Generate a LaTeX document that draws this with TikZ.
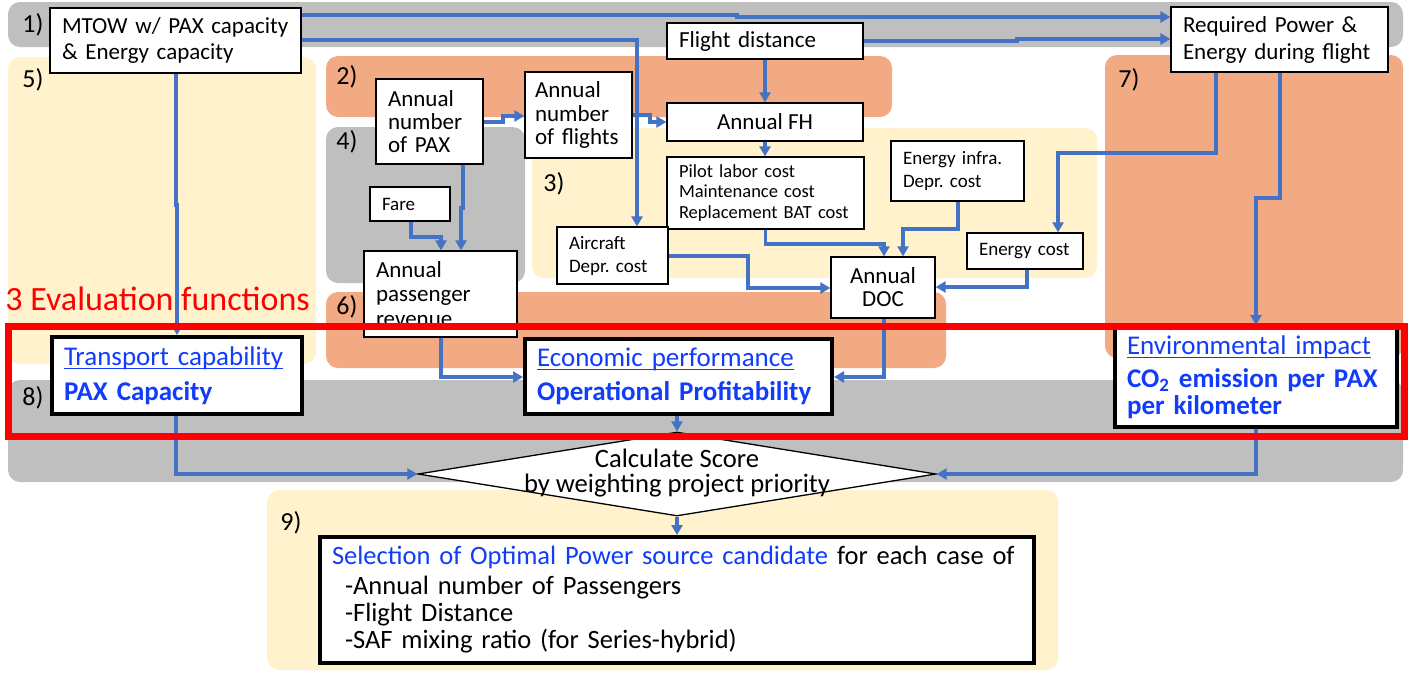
\documentclass[tikz,border=0pt]{standalone}
\usepackage{fontspec}
\setmainfont{Carlito}
\usetikzlibrary{arrows.meta,shapes.geometric}
\definecolor{bandgray}{HTML}{BFBFBF}
\definecolor{bgorange}{HTML}{F2AA84}
\definecolor{bgyellow}{HTML}{FFF2CC}
\definecolor{lineblue}{HTML}{4472C4}
\definecolor{txtblue}{RGB}{16,60,250}
\definecolor{evalred}{HTML}{FF0000}
\newcommand\fsz[2]{\fontsize{#1}{#2}\selectfont}
\newcommand\myul[1]{\setbox0\hbox{#1}\rlap{\rule[-1.8pt]{\wd0}{0.6pt}}\box0}
\frenchspacing
\begin{document}
\begin{tikzpicture}[x=0.5pt,y=-0.5pt,
  box/.style={draw=black, fill=white, line width=0.65pt, inner xsep=6pt, inner ysep=0pt, align=left},
  evalbox/.style={box, line width=2pt, text=txtblue},
  conn/.style={draw=lineblue, line width=1.6pt, -{Triangle[length=5pt,width=5.5pt]}},
  lbl/.style={anchor=west, inner sep=0pt, font=\fsz{13}{15}},
  bggray/.style={fill=bandgray, rounded corners=6pt},
  bgor/.style={fill=bgorange, rounded corners=6pt},
  bgye/.style={fill=bgyellow, rounded corners=6pt}]
\useasboundingbox (0,0) rectangle (1422,675);
% background regions
\fill[bggray] (8,2) rectangle (1403,47);
\fill[bgye] (8,57) rectangle (316,364);
\fill[bgor] (326,56) rectangle (892,117);
\fill[bggray] (326,127) rectangle (525,283);
\fill[bgye] (532,128) rectangle (1097,278);
\fill[bgor] (326,292) rectangle (946,368);
\fill[bgor] (1105,55) rectangle (1403,358);
\fill[bggray] (8,380) rectangle (1403,482);
\fill[bgye] (267,490) rectangle (1058,670);
% region labels
\node[lbl] (L1) at (22,25) {1)};
\node[lbl] (L5) at (22,80) {5)};
\node[lbl] (L2) at (336,77) {2)};
\node[lbl] (L4) at (336,142) {4)};
\node[lbl] (L3) at (543,184) {3)};
\node[lbl] (L6) at (336,307) {6)};
\node[lbl] (L7) at (1118,80) {7)};
\node[lbl] (L8) at (22,398) {8)};
\node[lbl] (L9) at (280,523) {9)};
% boxes
\node[box, text width=113.5pt, minimum height=32.5pt, font=\fsz{11.5}{13}] (MTOW) at (175.5,40.5) {MTOW w/ PAX capacity\\\& Energy capacity};
\node[box, text width=86pt, minimum height=18pt, font=\fsz{11.5}{13}] (Flight) at (765,41) {Flight distance};
\node[box, text width=96.5pt, minimum height=32.5pt, font=\fsz{11.5}{13.5}] (Req) at (1279.5,39.5) {Required Power \&\\Energy during flight};
\node[box, text width=41.5pt, minimum height=42.5pt, font=\fsz{11.5}{11.5}] (PAX) at (429.5,121.5) {Annual\\number\\of PAX};
\node[box, inner xsep=5pt, text width=43.5pt, minimum height=43pt, font=\fsz{11.5}{11.75}] (Flights) at (578.5,115) {Annual\\number\\\mbox{of flights}};
\node[box, align=center, minimum width=98pt, minimum height=19pt, font=\fsz{11.5}{13}] (FH) at (765,122) {Annual FH};
\node[box, text width=86.5pt, minimum height=36pt, font=\fsz{9.25}{10.25}] (Pilot) at (765.5,193) {Pilot labor cost\\Maintenance cost\\Replacement BAT cost};
\node[box, text width=54.5pt, minimum height=30pt, font=\fsz{9.5}{11.5}] (Infra) at (957.5,171) {Energy infra.\\Depr. cost};
\node[box, text width=43.5pt, minimum height=28.5pt, font=\fsz{9.5}{11.5}] (Acd) at (612.5,255.5) {Aircraft\\Depr. cost};
\node[box, text width=46pt, minimum height=18pt, font=\fsz{9.5}{11.5}] (ECost) at (1025,251) {Energy cost};
\node[box, align=center, minimum width=52pt, minimum height=30.5pt, font=\fsz{11.5}{11.5}] (DOC) at (883,287.5) {Annual\\DOC};
\node[box, text width=28pt, minimum height=17pt, font=\fsz{9.5}{11.5}] (Fare) at (410,204) {Fare};
\node[box, text width=64.5pt, minimum height=43pt, font=\fsz{11.5}{12.25}] (Rev) at (440.5,294) {Annual\\passenger\\revenue};
\node[evalbox, text width=113pt, minimum height=38.5pt, font=\fsz{13.5}{17.5}] (Trans) at (177,375.5) {\myul{Transport capability}\\\textbf{PAX Capacity}};
\node[evalbox, text width=141.5pt, minimum height=37.5pt, font=\fsz{13.5}{17}] (Econ) at (678.5,376.5) {\myul{Economic performance}\\\textbf{Operational Profitability}};
\node[evalbox, text width=129pt, minimum height=50pt, font=\fsz{13.5}{13.5}] (Env) at (1256,377) {\myul{Environmental impact}\\[3pt]\textbf{CO\textsubscript{2} emission per PAX}\\\textbf{per kilometer}};
\node[diamond, draw=black, fill=white, line width=0.65pt, inner sep=0pt, minimum width=259pt, minimum height=42pt] (Dia) at (677,474) {};
\node[font=\fsz{13.3}{12.5}, align=center, inner sep=0pt] (DiaT) at (677,473.5) {Calculate Score\\by weighting project priority};
\node[evalbox, text=black, text width=345pt, minimum height=63pt, font=\fsz{13.25}{13.5}] (Sel) at (677,600) {\textcolor{txtblue}{Selection of Optimal Power source candidate} for each case of\\[1.5pt]\hspace*{6.5pt}-Annual number of Passengers\\\hspace*{6.5pt}-Flight Distance\\\hspace*{6.5pt}-SAF mixing ratio (for Series-hybrid)};
% connectors
\draw[conn] (MTOW.east |- 0,15) -- (737,15) -- (737,17) -- (Req.west |- 0,17);
\draw[conn] (MTOW.east |- 0,40) -| (Acd.north -| 637,0);
\draw[conn] (Flight.east |- 0,41) -- (1017,41) -- (1017,39) -- (Req.west |- 0,39);
\draw[conn] (Flight.south) -- (FH.north);
\draw[conn] (FH.south) -- (Pilot.north -| FH.south);
\draw[conn] (PAX.east |- 0,122) -- (503,122) -- (503,116) -- (Flights.west |- 0,116);
\draw[conn] (Flights.east |- 0,115) -- (650,115) -- (650,122) -- (FH.west);
\draw[conn] (MTOW.south -| 176,0) -- (176,205) -- (177,205) -- (Trans.north);
\draw[conn] (PAX.south -| 463,0) -- (463,208) -- (461,208) -- (Rev.north -| 461,0);
\draw[conn] (Fare.south -| 411,0) |- (441,237) -- (Rev.north -| 441,0);
\draw[conn] (Pilot.south) |- (884,244) -- (DOC.north -| 884,0);
\draw[conn] (Infra.south -| 958,0) |- (903,229) -- (DOC.north -| 903,0);
\draw[conn] (Acd.east |- 0,256) -| (748,288) -- (DOC.west |- 0,288);
\draw[conn] (ECost.south -| 1027,0) |- (DOC.east |- 0,287);
\draw[conn] (Req.south -| 1216,0) |- (1058,153) -- (ECost.north -| 1058,0);
\draw[conn] (Req.south -| 1280,0) -- (1280,198) -- (1256,198) -- (Env.north);
\draw[conn] (Rev.south -| 441,0) |- (Econ.west |- 0,377);
\draw[conn] (DOC.south -| 884,0) |- (Econ.east |- 0,377);
\draw[conn] (Trans.south -| 176,0) |- (Dia.west);
\draw[conn] (Econ.south -| Dia.north) -- (Dia.north);
\draw[conn] (Env.south) |- (Dia.east);
\draw[conn] (Dia.south) -- (Sel.north);
% evaluation frame
\draw[draw=evalred, line width=3.5pt] (8,326) rectangle (1404,436);
\node[anchor=west, inner sep=0pt, text=evalred, font=\fsz{17}{19}] (EvalT) at (5,299) {3 Evaluation functions};
\end{tikzpicture}
\end{document}
